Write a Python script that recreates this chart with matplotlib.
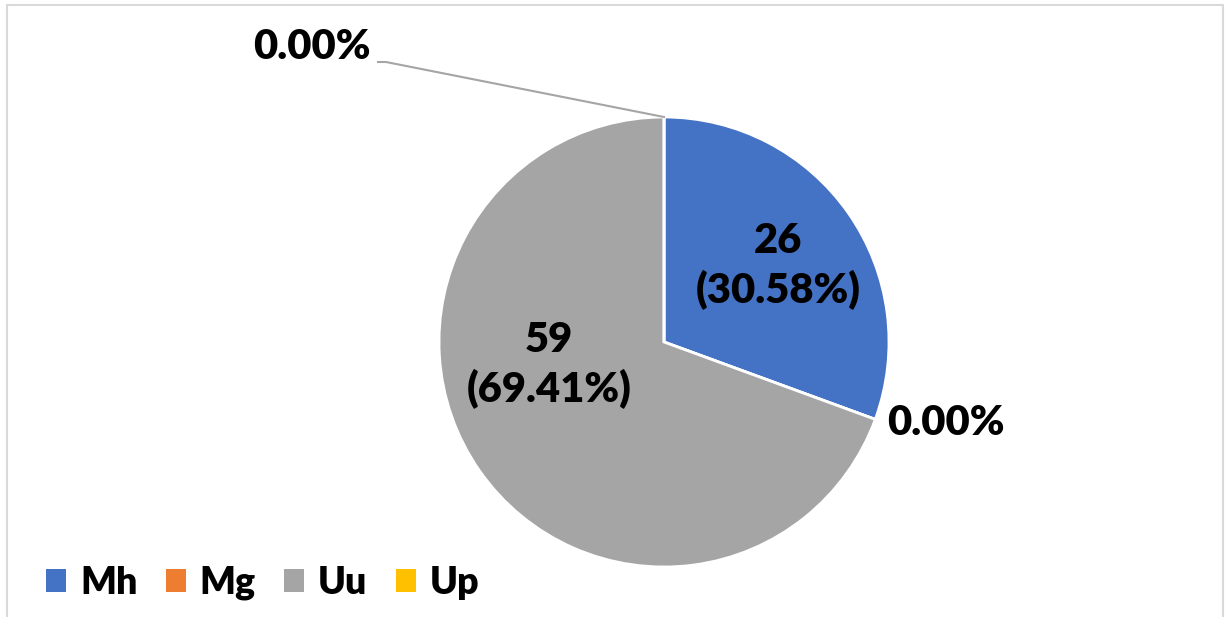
import numpy as np
import matplotlib
matplotlib.use("Agg")
import matplotlib.pyplot as plt
from matplotlib.patches import Rectangle, Patch

# data
categories = ["Mh", "Mg", "Uu", "Up"]
counts = [26, 0, 59, 0]
percent_text = ["30.58%", "0.00%", "69.41%", "0.00%"]
colors = ["#4472C4", "#ED7D31", "#A5A5A5", "#FFC000"]

W, H = 1225, 617
fig = plt.figure(figsize=(W / 100, H / 100), dpi=100)
ax = fig.add_axes([0, 0, 1, 1])

# light chart frame
fig.patches.append(Rectangle((7 / W, -0.05), (1223 - 7) / W, (H - 5) / H + 0.05,
                             transform=fig.transFigure, fill=False,
                             edgecolor="#d9d9d9", linewidth=1.5))

cx, cy, R = 664, H - 342, 225
wedges, _ = ax.pie(counts, colors=colors, startangle=90, counterclock=False,
                   center=(cx, cy), radius=R, frame=True,
                   wedgeprops=dict(edgecolor="white", linewidth=2))
ax.set_xlim(0, W)
ax.set_ylim(0, H)
ax.set_aspect("equal")
ax.axis("off")

font = dict(family="Lato", weight="heavy", color="black")
fs = 30


def polar(ang, frac):
    a = np.deg2rad(ang)
    return cx + frac * R * np.cos(a), cy + frac * R * np.sin(a)


# inside labels (value + percent)
inside = {0: (33.7, 0.61), 2: (191.3, 0.52)}
for i, (ang, frac) in inside.items():
    x, y = polar(ang, frac)
    ax.text(x, y, f"{counts[i]}\n({percent_text[i]})", ha="center", va="center",
            fontsize=fs, linespacing=1.3, **font)

# Mg: zero slice at the Mh/Uu boundary
ang_mg = wedges[1].theta1
x, y = polar(ang_mg, 1.0)
ax.text(x + 12, y - 4, percent_text[1], ha="left", va="center", fontsize=fs, **font)

# Up: zero slice at the top, with leader line
ang_up = wedges[3].theta1
x, y = polar(ang_up, 1.0)
ax.plot([x, 386, 378], [y, H - 62, H - 62], color="#a5a5a5", lw=1.5)
ax.text(371, H - 47, percent_text[3], ha="right", va="center", fontsize=fs, **font)

handles = [Patch(facecolor=c, edgecolor="none") for c in colors]
leg = ax.legend(handles, categories, loc="center left", bbox_to_anchor=(46 / W, 34 / H),
                ncol=4, frameon=False, borderpad=0, borderaxespad=0,
                handlelength=0.53, handleheight=0.53,
                handletextpad=0.38, columnspacing=0.75,
                prop=dict(family="Lato", weight="heavy", size=27))

fig.savefig("out.png", dpi=100)
